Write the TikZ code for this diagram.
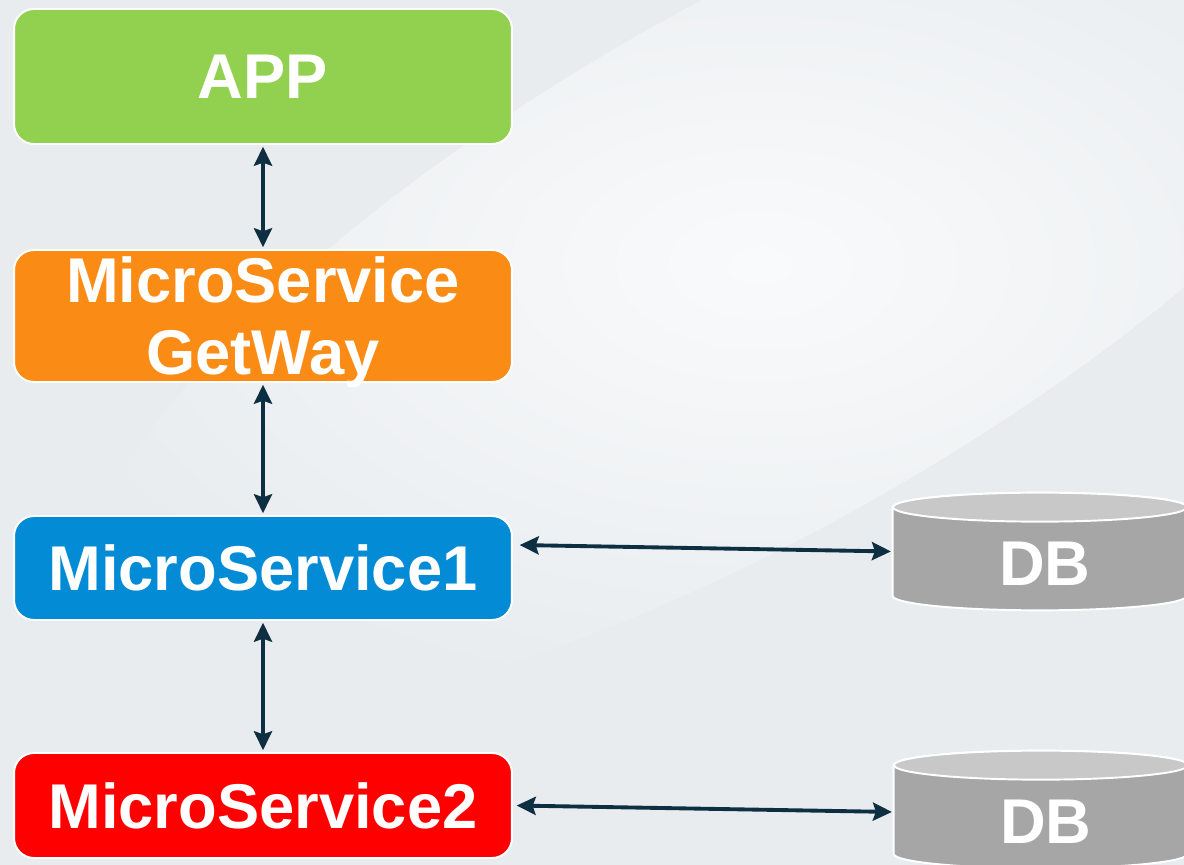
\documentclass[tikz,border=0pt]{standalone}
\usepackage{fontspec}
\setmainfont{Liberation Sans}
\usetikzlibrary{arrows.meta}
\definecolor{bggray}{RGB}{232,236,239}
\definecolor{appgreen}{RGB}{146,208,80}
\definecolor{gworange}{RGB}{250,140,22}
\definecolor{msblue}{RGB}{3,139,214}
\definecolor{msred}{RGB}{255,0,0}
\definecolor{dbside}{RGB}{166,166,166}
\definecolor{dbtop}{RGB}{200,200,200}
\definecolor{linknavy}{RGB}{14,46,66}
\tikzset{>={Stealth[length=0.38cm,width=0.36cm,inset=0.06cm]},
  every node/.style={font=\bfseries\fontsize{36}{41}\selectfont,text=white},
  svc/.style={rectangle,rounded corners=0.4cm,draw=white,line width=1.1pt,
    minimum width=9.96cm,inner sep=0pt,align=center,text depth=0pt},
  drum/.style={minimum width=5.88cm,minimum height=2.34cm,inner sep=0pt},
  link/.style={<->,draw=linknavy,line width=2.2pt,shorten <=1pt,shorten >=1pt}}

\begin{document}
\begin{tikzpicture}[x=0.02cm,y=0.02cm]
    \useasboundingbox (0,0) rectangle (1184,865);
    \fill[bggray] (0,0) rectangle (1184,865);
    \begin{scope}
        \clip (0,0) rectangle (1184,865);
        \shade[inner color=white!75!bggray,outer color=bggray,rotate around={30:(760,600)}]
            (760,600) ellipse[x radius=780,y radius=260];
    \end{scope}

    \node[svc,fill=appgreen,minimum height=2.7cm] (app) at (263,788.5) {APP};
    \node[svc,fill=gworange,minimum height=2.64cm] (gw) at (263,549) {MicroService\\GetWay};
    \node[svc,fill=msblue,minimum height=2.08cm] (ms1) at (263,297) {MicroService1};
    \node[svc,fill=msred,minimum height=2.1cm] (ms2) at (263,59.5) {MicroService2};

    \node[drum] (db1) at (1040,313.5) {};
    \node[drum] (db2) at (1041,55.5) {};
    \foreach \d in {db1,db2} {
        \filldraw[draw=white,line width=1.1pt,fill=dbside]
            ([yshift=-0.29cm]\d.north west) -- ([yshift=0.29cm]\d.south west)
            arc[start angle=180,end angle=360,x radius=147,y radius=14.5]
            -- ([yshift=-0.29cm]\d.north east)
            arc[start angle=0,end angle=180,x radius=147,y radius=14.5] -- cycle;
        \filldraw[draw=white,line width=1.1pt,fill=dbtop]
            ([yshift=-0.29cm]\d.north) ellipse[x radius=147,y radius=14.5];
        \node (\d-txt) at ([shift={(5,-12)}]\d.center) {DB};
    }

    \draw[link] (app) -- (gw);
    \draw[link] (gw) -- (ms1);
    \draw[link] (ms1) -- (ms2);
    \draw[link] ([shift={(5,23)}]ms1.east) -- (db1.west);
    \draw[link] ([shift={(2,0)}]ms2.east) -- ([shift={(0,-2.5)}]db2.west);
\end{tikzpicture}
\end{document}
